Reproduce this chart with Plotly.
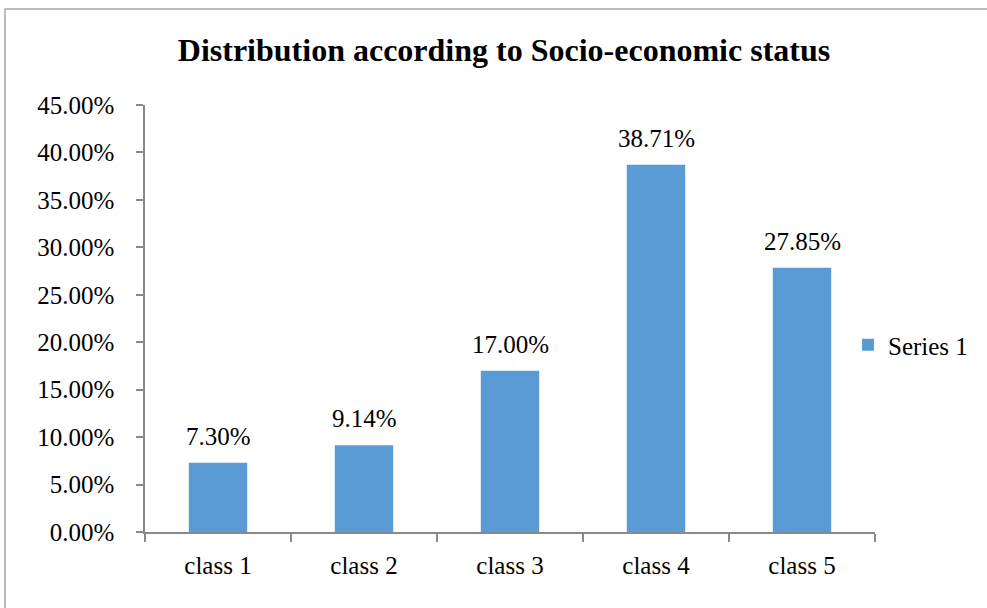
import plotly.graph_objects as go

categories = ["class 1", "class 2", "class 3", "class 4", "class 5"]
shares = [0.0730, 0.0914, 0.1700, 0.3871, 0.2785]
series_name = "Series 1"
title_text = "Distribution according to Socio-economic status"

W, H = 987, 608
ML, MR, MT, MB = 145, 112, 105, 76
PW, PH = W - ML - MR, H - MT - MB

font_family = "Liberation Serif, Times New Roman, serif"
axis_gray = "#898989"
label_size = 25

fig = go.Figure()
fig.add_trace(go.Bar(
    x=categories,
    y=shares,
    name=series_name,
    marker=dict(color="#5B9BD5", line=dict(width=0)),
    showlegend=True,
))

# value labels above each bar
for c, v in zip(categories, shares):
    fig.add_annotation(
        x=c, y=v, text=f"{v * 100:.2f}%",
        showarrow=False, yanchor="bottom", yshift=11,
        font=dict(family=font_family, size=label_size, color="#000000"),
    )

# outer frame of the chart area
def px_to_paper_x(px):
    return (px - ML) / PW

def px_to_paper_y(py):
    return (H - MB - py) / PH

fig.add_shape(
    type="rect", xref="paper", yref="paper",
    x0=px_to_paper_x(5), x1=px_to_paper_x(W + 20),
    y0=px_to_paper_y(H + 20), y1=px_to_paper_y(9),
    line=dict(color="#a6a6a6", width=1.5), fillcolor="rgba(0,0,0,0)",
    layer="below",
)

fig.update_layout(
    width=W, height=H,
    margin=dict(l=ML, r=MR, t=MT, b=MB, autoexpand=False),
    paper_bgcolor="white", plot_bgcolor="white",
    bargap=0.6,
    font=dict(family=font_family, size=label_size, color="#000000"),
    title=dict(
        text=f"<b>{title_text}</b>",
        x=504 / W, xref="container", xanchor="center",
        y=1 - 50 / H, yref="container", yanchor="middle",
        font=dict(family=font_family, size=32, color="#000000"),
    ),
    legend=dict(
        x=px_to_paper_x(848), xanchor="left", y=px_to_paper_y(345), yanchor="middle",
        font=dict(family=font_family, size=label_size), bgcolor="rgba(0,0,0,0)",
        itemwidth=30,
    ),
    xaxis=dict(
        type="category", tickson="boundaries",
        showline=True, linecolor=axis_gray, linewidth=1.5,
        ticks="outside", ticklen=8, tickcolor=axis_gray, tickwidth=1.5,
        ticklabelstandoff=10,
        showgrid=False, zeroline=False,
        tickfont=dict(family=font_family, size=label_size),
    ),
    yaxis=dict(
        range=[0, 0.45], dtick=0.05, tickformat=".2%",
        showline=True, linecolor=axis_gray, linewidth=1.5,
        ticks="outside", ticklen=7, tickcolor=axis_gray, tickwidth=1.5,
        ticklabelstandoff=17,
        showgrid=False, zeroline=False,
        tickfont=dict(family=font_family, size=label_size),
    ),
)

fig.write_html("out.html")
